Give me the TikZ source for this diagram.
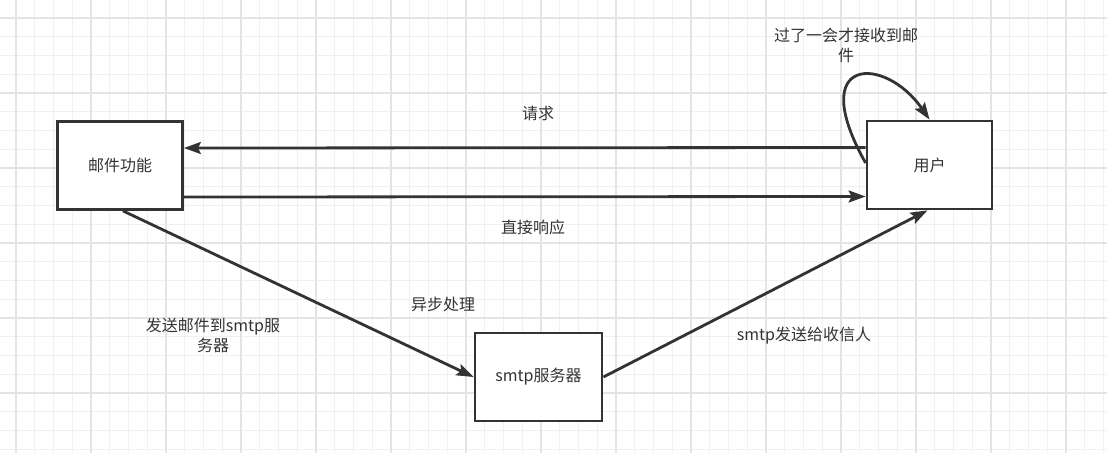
\documentclass[tikz,border=0pt]{standalone}
\usepackage{fontspec}
\setmainfont{Noto Sans CJK SC}
\usetikzlibrary{arrows.meta}
\definecolor{gridminor}{HTML}{F0F0F0}
\definecolor{gridmajor}{HTML}{E4E4E4}
\definecolor{ink}{HTML}{333333}
\begin{document}
\begin{tikzpicture}[x=1pt,y=-1pt,
  box/.style={draw=ink,line width=2.8pt,fill=white,minimum width=125pt,minimum height=88pt,inner sep=0pt,font=\fontsize{16}{19}\selectfont,text=ink},
  lbl/.style={font=\fontsize{16}{20}\selectfont,text=ink,align=center,inner sep=0pt},
  conn/.style={draw=ink,line width=2.8pt,-{Stealth[length=17pt,width=12pt,inset=3pt]}},
  minorline/.style={draw=gridminor,line width=1pt},
  majorline/.style={draw=gridmajor,line width=1.2pt}]
\useasboundingbox[fill=white] (0,0) rectangle (1107,453);
\foreach \i in {0,...,58}{
  \pgfmathsetmacro\gx{16+18.75*\i}
  \draw[minorline] (\gx,0) -- (\gx,453);
}
\foreach \i in {0,...,23}{
  \pgfmathsetmacro\gy{18+18.75*\i}
  \draw[minorline] (0,\gy) -- (1107,\gy);
}
\foreach \i in {0,4,...,56}{
  \pgfmathsetmacro\gx{16+18.75*\i}
  \draw[majorline] (\gx,0) -- (\gx,453);
}
\foreach \i in {0,4,...,20}{
  \pgfmathsetmacro\gy{18+18.75*\i}
  \draw[majorline] (0,\gy) -- (1107,\gy);
}
\node[box] (mail) at (120,165.5) {邮件功能};
\node[box] (user) at (929.5,165) {用户};
\node[box,minimum width=127pt] (smtp) at (538.5,377) {smtp服务器};

\draw[conn] ([yshift=17.5pt]user.west) -- ([yshift=17.5pt]mail.east);
\draw[conn] ([yshift=-31.5pt]mail.east) -- ([yshift=-31.5pt]user.west);
\draw[conn] ([xshift=3pt]mail.south) -- (smtp.west);
\draw[conn] (smtp.east) -- ([xshift=-2pt]user.south);
\draw[conn] ([yshift=2pt]user.west) .. controls (805,55) and (885,55) .. ([xshift=0pt]user.north);

\node[lbl] (lreq) at (538,113) {请求};
\node[lbl] (lresp) at (533,227) {直接响应};
\node[lbl] (lasync) at (443,304) {异步处理};
\node[lbl] (lsend) at (213,335) {发送邮件到smtp服\\务器};
\node[lbl] (lsmtp) at (804,336) {smtp发送给收信人};
\node[lbl] (llater) at (846,45) {过了一会才接收到邮\\件};
\end{tikzpicture}
\end{document}
